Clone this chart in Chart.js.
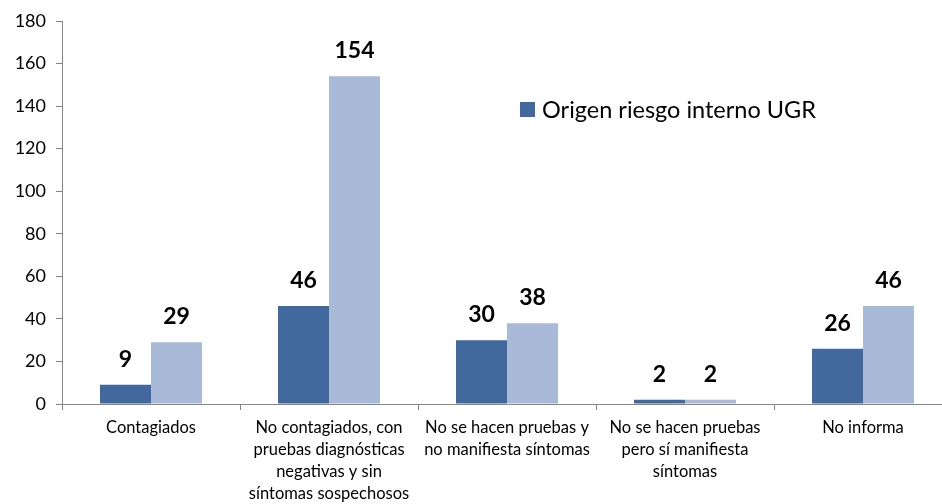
<!DOCTYPE html>
<html><head><meta charset="utf-8">
<script src="https://cdn.jsdelivr.net/npm/chart.js@4/dist/chart.umd.min.js"></script>
<style>html,body{margin:0;padding:0;background:#fff;overflow:hidden;width:942px;height:504px}canvas{display:block}</style>
</head><body>
<canvas id="c" width="956" height="504"></canvas>
<script>
const categories = [
  ["Contagiados"],
  ["No contagiados, con","pruebas diagnósticas","negativas y sin","síntomas sospechosos"],
  ["No se hacen pruebas y","no manifiesta síntomas"],
  ["No se hacen pruebas","pero sí manifiesta","síntomas"],
  ["No informa"]
];
const seriesInterno = [9, 46, 30, 2, 26];
const seriesOtro = [29, 154, 38, 2, 46];
const yTicks = [0,20,40,60,80,100,120,140,160,180];
const FONT = "Lato, 'Open Sans', sans-serif";

const labelPlugin = {
  id: 'labels',
  afterDatasetsDraw(chart) {
    const ctx = chart.ctx;
    ctx.save();
    ctx.font = "bold 23px " + FONT;
    ctx.fillStyle = "#000";
    ctx.textAlign = "center";
    ctx.textBaseline = "bottom";
    chart.data.datasets.forEach((ds, i) => {
      chart.getDatasetMeta(i).data.forEach((bar, j) => {
        ctx.fillText(String(ds.data[j]), bar.x, bar.y - 14);
      });
    });
    // legend
    const ds = chart.data.datasets[0];
    ctx.fillStyle = ds.backgroundColor;
    ctx.fillRect(520, 102, 15, 15);
    ctx.font = "23.5px " + FONT;
    ctx.fillStyle = "#000";
    ctx.textAlign = "left";
    ctx.textBaseline = "middle";
    ctx.fillText(ds.label, 542, 110);
    ctx.restore();
  }
};

new Chart(document.getElementById('c'), {
  type: 'bar',
  data: {
    labels: categories,
    datasets: [
      { label: 'Origen riesgo interno UGR', data: seriesInterno, backgroundColor: '#41699e', barPercentage: 1, categoryPercentage: 0.573 },
      { label: 'Otro', data: seriesOtro, backgroundColor: '#a9bad8', barPercentage: 1, categoryPercentage: 0.573 }
    ]
  },
  options: {
    responsive: false,
    animation: false,
    layout: { padding: { top: 21, right: 4, left: 0, bottom: 0 } },
    plugins: { legend: { display: false }, tooltip: { enabled: false } },
    scales: {
      x: {
        grid: { drawOnChartArea: false, color: '#868686', tickLength: 6, offset: true },
        border: { color: '#868686' },
        ticks: { color: '#000', font: { family: FONT, size: 16.5, lineHeight: '22px' }, padding: 7, maxRotation: 0, autoSkip: false },
        afterFit(s) { s.height = 100; }
      },
      y: {
        min: 0, max: 180,
        afterBuildTicks(s) { s.ticks = yTicks.map(v => ({ value: v })); },
        grid: { drawOnChartArea: false, color: '#868686', tickLength: 6 },
        border: { color: '#868686' },
        ticks: { color: '#000', font: { family: FONT, size: 18 }, padding: 10 },
        afterFit(s) { s.width = 62; }
      }
    }
  },
  plugins: [labelPlugin]
});
</script>
</body></html>
